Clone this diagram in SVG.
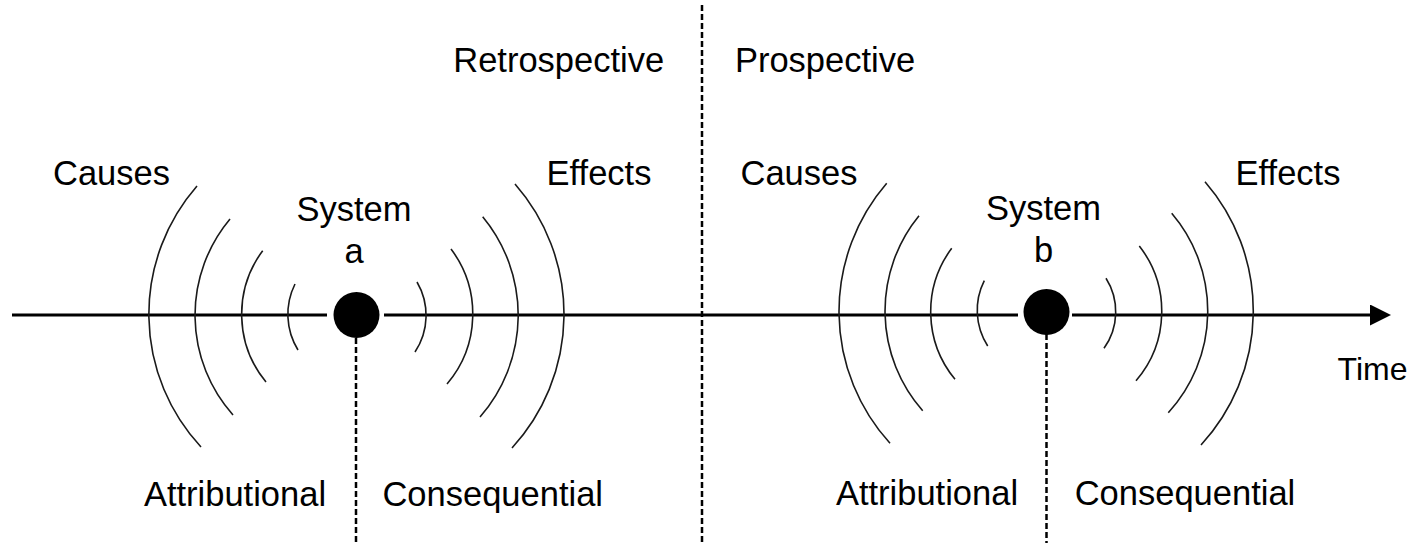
<svg xmlns="http://www.w3.org/2000/svg" width="1418" height="543" viewBox="0 0 1418 543">
<style>
.t{font-family:"Liberation Sans",Arial,sans-serif;font-size:34.5px;fill:#000;text-anchor:middle}
.arc{fill:none;stroke:#1a1a1a;stroke-width:1.6}
.axis{stroke:#000;stroke-width:3;fill:none}
.dash{stroke:#000;stroke-width:2.5;stroke-dasharray:6 3;fill:none}
</style>
<defs>
<marker id="arr" markerUnits="userSpaceOnUse" markerWidth="22" markerHeight="22" refX="0" refY="10.5" orient="auto">
<path d="M0,0 L21,10.5 L0,21 Z" fill="#000"/>
</marker>
</defs>
<rect width="1418" height="543" fill="#fff"/>
<g id="connectors">
<line class="dash" x1="702" y1="5" x2="702" y2="543"/>
<line class="axis" x1="12" y1="315" x2="327" y2="315"/>
<line class="axis" x1="384" y1="315" x2="1018" y2="315"/>
<line class="axis" x1="1072" y1="315" x2="1370" y2="315" marker-end="url(#arr)"/>
<line class="dash" x1="356" y1="338" x2="356" y2="543"/>
<line class="dash" x1="1046.5" y1="334" x2="1046.5" y2="543"/>
</g>
<g id="arcs-a">
<path class="arc" d="M295,284 A68,68 0 0 0 298,350"/>
<path class="arc" d="M262.7,250.7 A106.5,106.5 0 0 0 266,382"/>
<path class="arc" d="M230,219 A150,150 0 0 0 233,415"/>
<path class="arc" d="M197,186 A195,195 0 0 0 201,447"/>
<path class="arc" d="M417,282 A66,66 0 0 1 415,352"/>
<path class="arc" d="M451,249 A108,108 0 0 1 447,384"/>
<path class="arc" d="M482.7,216.7 A154.6,154.6 0 0 1 480,417"/>
<path class="arc" d="M515,184 A197.8,197.8 0 0 1 512,448"/>
</g>
<g id="arcs-b">
<path class="arc" d="M984.3,280.7 A65.8,65.8 0 0 0 987.7,346"/>
<path class="arc" d="M951.7,248.3 A106.2,106.2 0 0 0 955,379.3"/>
<path class="arc" d="M919,215.7 A150.7,150.7 0 0 0 922.7,410.7"/>
<path class="arc" d="M886.7,183.3 A196,196 0 0 0 890,443.3"/>
<path class="arc" d="M1106,278.3 A62.6,62.6 0 0 1 1104,348.3"/>
<path class="arc" d="M1139.3,246 A106.3,106.3 0 0 1 1136,380.7"/>
<path class="arc" d="M1171.7,213.3 A150.7,150.7 0 0 1 1168.3,412.7"/>
<path class="arc" d="M1205,181.7 A197.6,197.6 0 0 1 1201,445"/>
</g>
<g id="system-a">
<circle cx="356.5" cy="315" r="23" fill="#000"/>
<text class="t" x="354" y="221">System</text>
<text class="t" x="354" y="263">a</text>
</g>
<g id="system-b">
<circle cx="1046.5" cy="312" r="23" fill="#000"/>
<text class="t" x="1043.5" y="220">System</text>
<text class="t" x="1043.5" y="262">b</text>
</g>
<g id="labels">
<text class="t" x="558.7" y="72">Retrospective</text>
<text class="t" x="825" y="72">Prospective</text>
<text class="t" x="111.5" y="185">Causes</text>
<text class="t" x="599" y="185">Effects</text>
<text class="t" x="799" y="185">Causes</text>
<text class="t" x="1288" y="185">Effects</text>
<text class="t" x="235" y="506">Attributional</text>
<text class="t" x="492.7" y="506">Consequential</text>
<text class="t" x="927" y="505">Attributional</text>
<text class="t" x="1185" y="505">Consequential</text>
<text class="t" x="1372.5" y="380" style="font-size:32px">Time</text>
</g>
</svg>
